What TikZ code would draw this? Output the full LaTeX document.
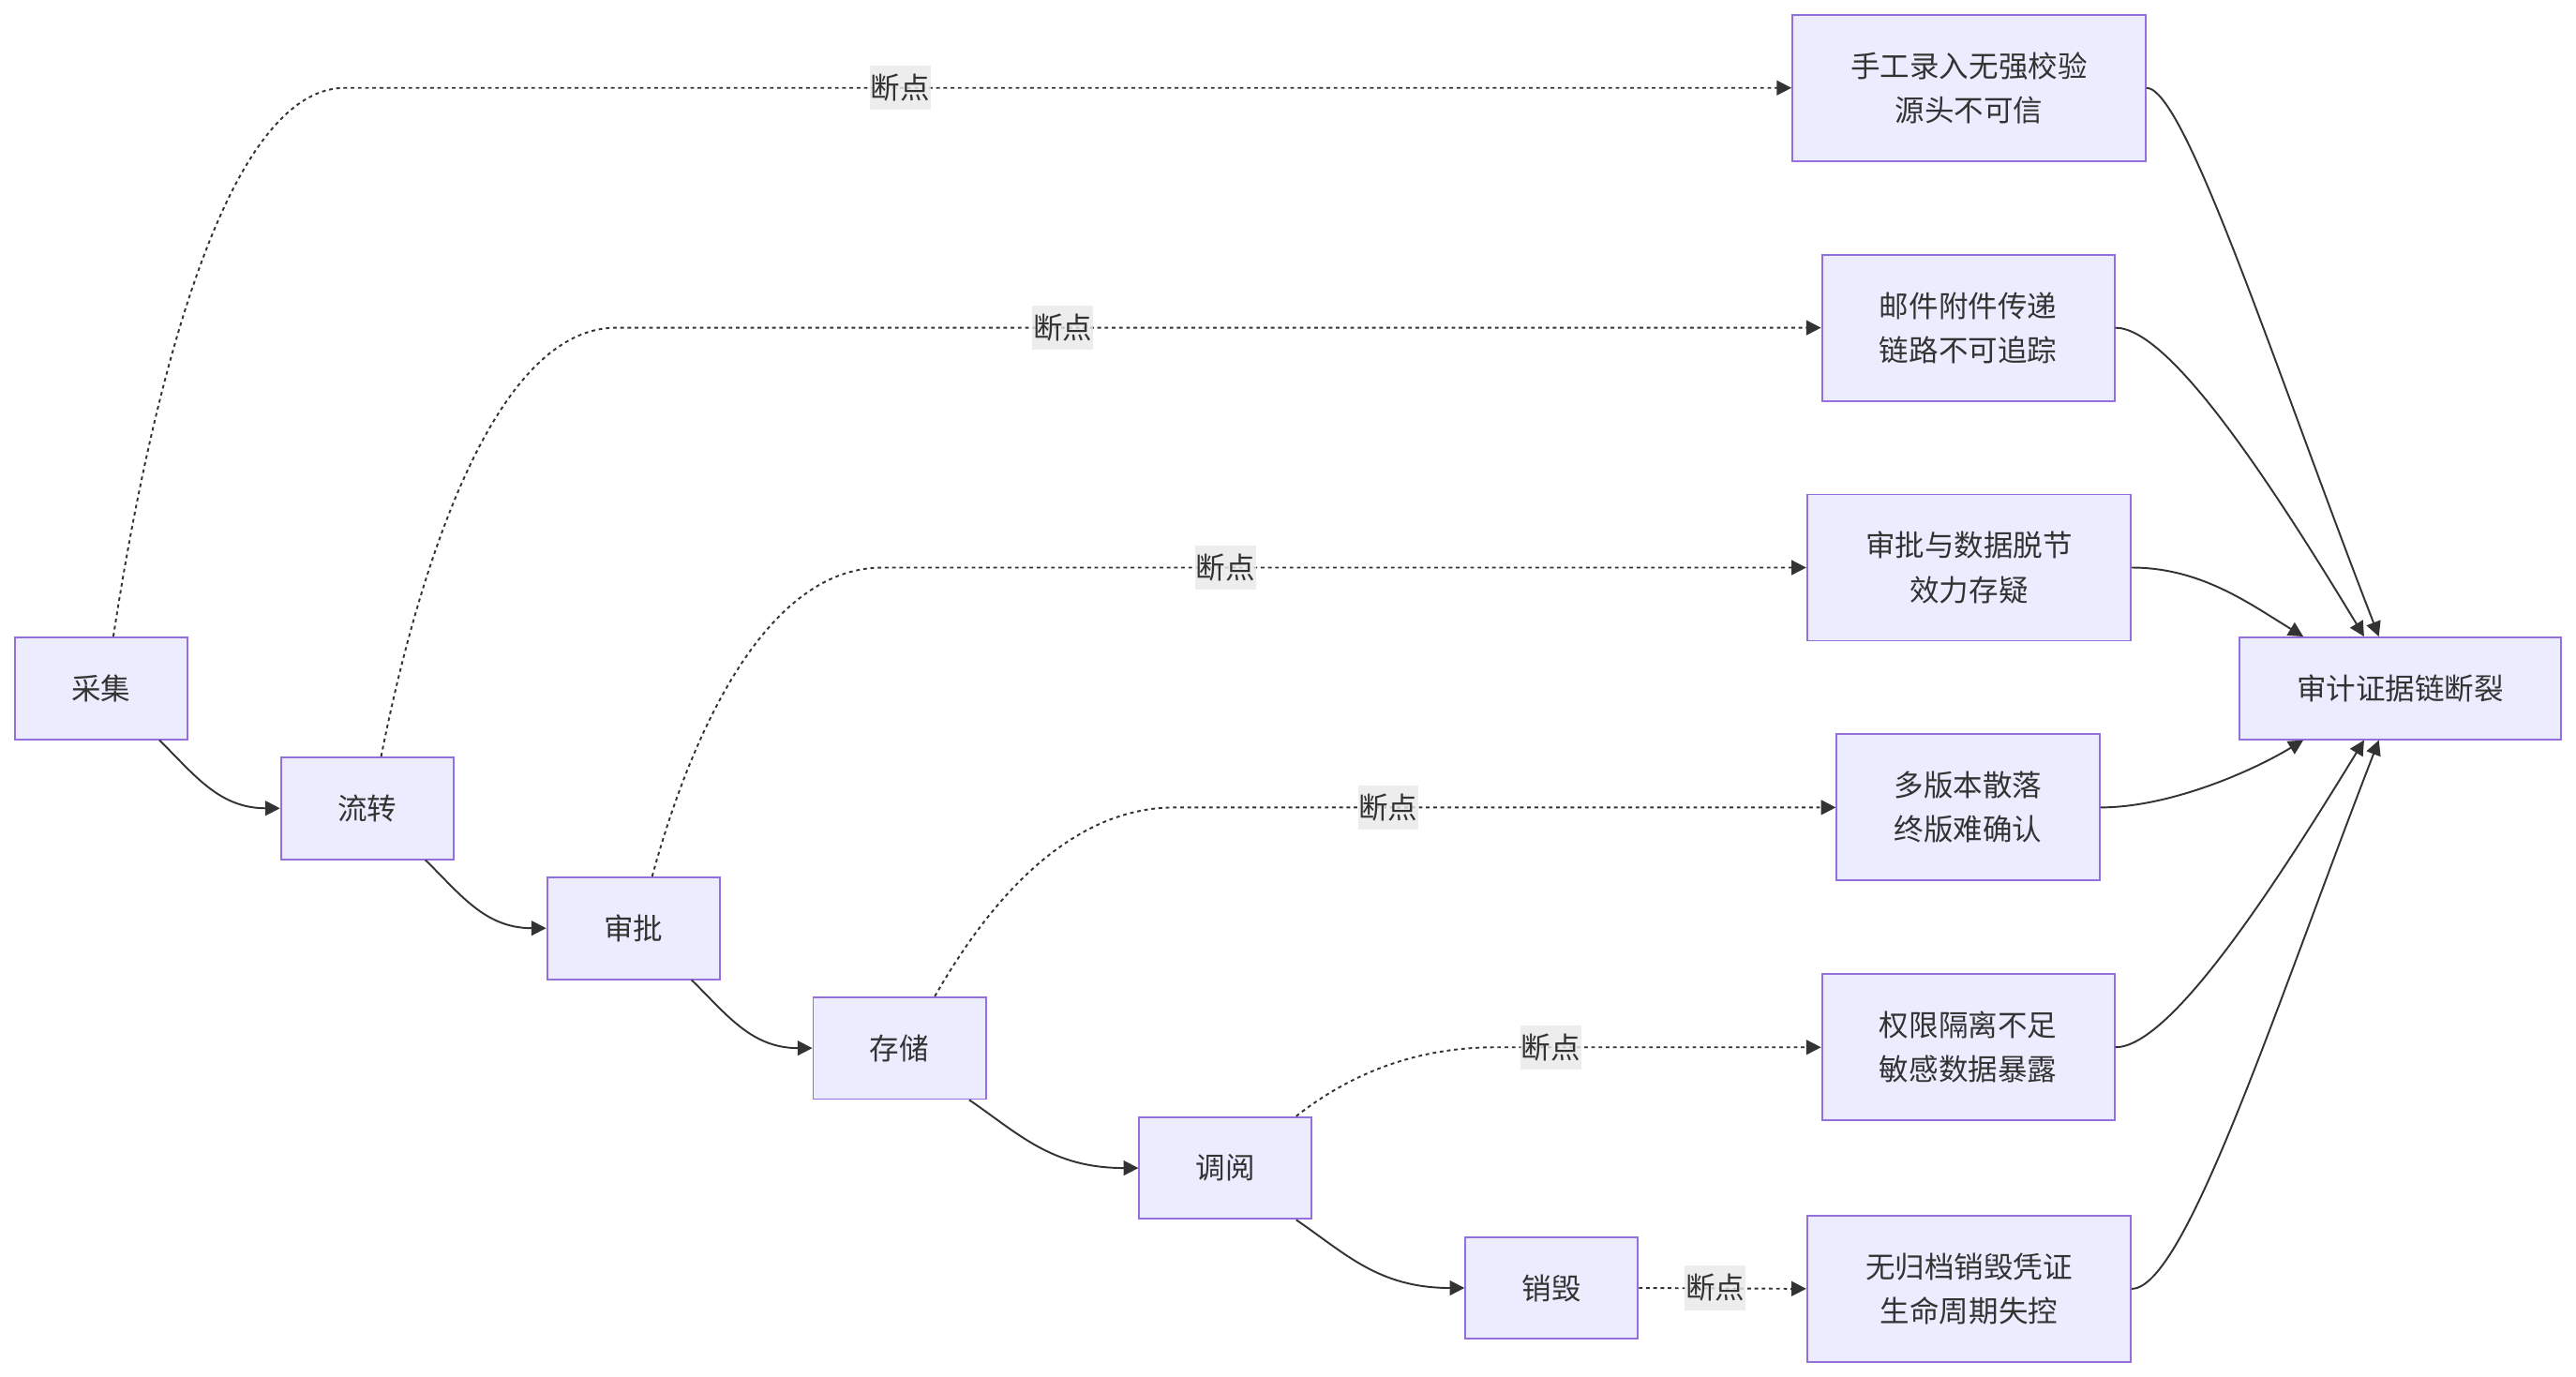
\documentclass[tikz,border=0pt]{standalone}
\usepackage{fontspec}
\newfontfamily\cjk{Noto Sans CJK SC}
\usetikzlibrary{arrows.meta,calc}
\definecolor{nodefill}{HTML}{ECECFF}
\definecolor{nodeborder}{HTML}{9370DB}
\definecolor{edgecol}{HTML}{333333}
\definecolor{txtcol}{HTML}{333333}
\definecolor{lblfill}{HTML}{E8E8E8}
\begin{document}
\begin{tikzpicture}[x=1pt,y=-1pt,
  box/.style={draw=nodeborder, fill=nodefill, line width=1.1pt, text=txtcol,
    font=\cjk\fontsize{18}{27}\selectfont, inner sep=0pt, align=center, minimum height=62pt},
  spine/.style={box, minimum width=105pt},
  risk/.style={box, minimum height=89pt},
  lbl/.style={fill=lblfill, fill opacity=0.8, text opacity=1, text=txtcol,
    font=\cjk\fontsize{18}{27}\selectfont, inner sep=0pt, minimum height=27pt, minimum width=37pt},
  flow/.style={draw=edgecol, line width=1.1pt, -{Triangle[length=9pt,width=9pt]}},
  brk/.style={flow, dash pattern=on 2.2pt off 2.2pt},
]
\useasboundingbox (0,0) rectangle (1568,838);

% spine nodes
\node[spine] (s1) at (61.5,419) {采集};
\node[spine] (s2) at (223.5,492) {流转};
\node[spine] (s3) at (385.5,565) {审批};
\node[spine] (s4) at (547.5,638) {存储};
\node[spine] (s5) at (746,711) {调阅};
\node[spine] (s6) at (944.5,784) {销毁};

% risk nodes
\node[risk, minimum width=215pt] (r1) at (1198.5,53.5) {手工录入无强校验\\源头不可信};
\node[risk, minimum width=178pt] (r2) at (1198,199.5) {邮件附件传递\\链路不可追踪};
\node[risk, minimum width=197pt] (r3) at (1198.5,345.5) {审批与数据脱节\\效力存疑};
\node[risk, minimum width=160pt] (r4) at (1198,491.5) {多版本散落\\终版难确认};
\node[risk, minimum width=178pt] (r5) at (1198,637.5) {权限隔离不足\\敏感数据暴露};
\node[risk, minimum width=197pt] (r6) at (1198.5,784.5) {无归档销毁凭证\\生命周期失控};

\node[box, minimum width=196pt] (audit) at (1461,419) {审计证据链断裂};

% spine flow
\draw[flow] ($(s1.south)+(35.5,0)$) .. controls (118,471) and (133,492) .. (s2.west);
\draw[flow] ($(s2.south)+(35.5,0)$) .. controls (280,544) and (295,565) .. (s3.west);
\draw[flow] ($(s3.south)+(35.5,0)$) .. controls (442,617) and (457,638) .. (s4.west);
\draw[flow] ($(s4.south)+(42.5,0)$) .. controls (620,690) and (640,711) .. (s5.west);
\draw[flow] ($(s5.south)+(43,0)$) .. controls (819,763) and (839,784) .. (s6.west);

% break edges
\draw[brk] ($(s1.north)+(7.5,0)$) .. controls (90,250) and (135,53.5) .. (210,53.5) -- (r1.west);
\draw[brk] ($(s2.north)+(8.5,0)$) .. controls (253,354) and (299,199.5) .. (375,199.5) -- (r2.west);
\draw[brk] ($(s3.north)+(11.5,0)$) .. controls (418,456) and (463,345.5) .. (537,345.5) -- (r3.west);
\draw[brk] ($(s4.north)+(21.5,0)$) .. controls (590,570) and (640,491.5) .. (715,491.5) -- (r4.west);
\draw[brk] ($(s5.north)+(43,0)$) .. controls (820,655) and (860,637.5) .. (910,637.5) -- (r5.west);
\draw[brk] (s6.east) -- (r6.west);

\node[lbl] (l1) at (548,53.5) {断点};
\node[lbl] (l2) at (647,199.5) {断点};
\node[lbl] (l3) at (746,345.5) {断点};
\node[lbl] (l4) at (845,491.5) {断点};
\node[lbl] (l5) at (944,637.5) {断点};
\node[lbl] (l6) at (1044,784) {断点};

% to audit
\draw[flow] (r1.east) .. controls (1330,53.5) and (1385,225) .. ($(audit.north)+(-13,0)$);
\draw[flow] (r2.east) .. controls (1320,199.5) and (1380,290) .. ($(audit.north)+(-22,0)$);
\draw[flow] (r3.east) .. controls (1340,345.5) and (1370,368) .. ($(audit.north)+(-59,0)$);
\draw[flow] (r4.east) .. controls (1320,491.5) and (1370,470) .. ($(audit.south)+(-59,0)$);
\draw[flow] (r5.east) .. controls (1320,637.5) and (1380,547) .. ($(audit.south)+(-22,0)$);
\draw[flow] (r6.east) .. controls (1330,784.5) and (1385,613) .. ($(audit.south)+(-13,0)$);
\end{tikzpicture}
\end{document}
